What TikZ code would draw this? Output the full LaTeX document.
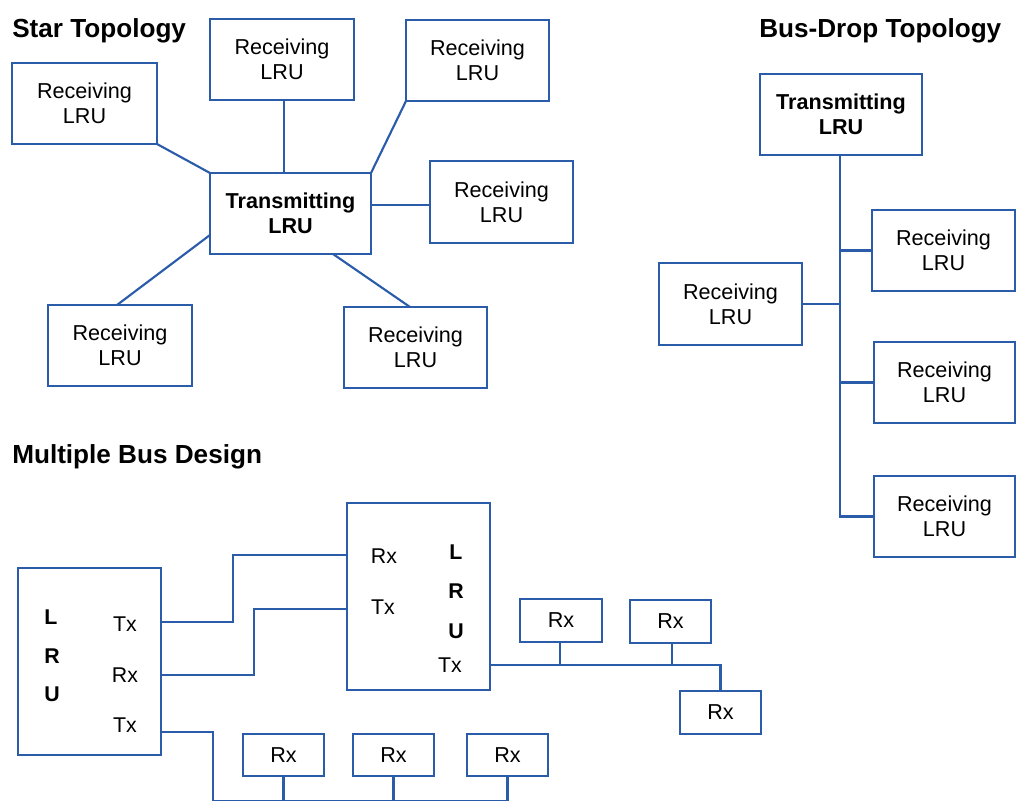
\documentclass[tikz,border=0pt]{standalone}
\usepackage{fontspec}
\setmainfont{Liberation Sans}
\usetikzlibrary{calc}
\definecolor{lineblue}{RGB}{42,92,170}
\tikzset{
  box/.style 2 args={draw=lineblue, line width=1.6pt, rectangle, inner sep=0pt, outer sep=0pt,
    minimum width=#1*0.75pt, minimum height=#2*0.75pt, align=center,
    font=\fontsize{16.2}{18.75}\selectfont},
  wire/.style={draw=lineblue, line width=1.6pt},
  title/.style={anchor=base west, inner sep=0pt, font=\fontsize{19.6}{22}\selectfont\bfseries},
  lbl/.style={inner sep=0pt, font=\fontsize{16}{18}\selectfont},
  blbl/.style={inner sep=0pt, font=\fontsize{16}{18}\selectfont\bfseries},
}
\begin{document}
\begin{tikzpicture}[x=0.75pt,y=-0.75pt]
\useasboundingbox (0,0) rectangle (1016,800);
% ---------- Star topology ----------
\node[title] (t1) at (12,37) {Star Topology};
\node[box={161}{81}] (tr) at (290.5,213.5) {\bfseries Transmitting\\\bfseries LRU};
\node[box={145}{81}] (rl1) at (84.5,103.5) {Receiving\\LRU};
\node[box={144}{81}] (rt) at (282,59.5) {Receiving\\LRU};
\node[box={143}{81}] (rtr) at (477.5,60.5) {Receiving\\LRU};
\node[box={143}{82}] (rr) at (501.5,202) {Receiving\\LRU};
\node[box={144}{81}] (rbl) at (120,345.5) {Receiving\\LRU};
\node[box={143}{81}] (rbr) at (415.5,347.5) {Receiving\\LRU};
\draw[wire] (rl1.south east) -- (tr.north west);
\draw[wire] (rt.south -| 284,0) -- (tr.north -| 284,0);
\draw[wire] (rtr.south west) -- (tr.north east);
\draw[wire] (rr.west |- 0,205) -- (tr.east |- 0,205);
\draw[wire] (tr.west |- 0,235) -- (rbl.north -| 117,0);
\draw[wire] (tr.south -| 333,0) -- (rbr.north -| 410,0);
% ---------- Bus-drop topology ----------
\node[title] (t2) at (759,37) {Bus-Drop Topology};
\node[box={162}{81}] (bt) at (841,114.5) {\bfseries Transmitting\\\bfseries LRU};
\node[box={143}{81}] (b1) at (943.5,250.5) {Receiving\\LRU};
\node[box={143}{82}] (b2) at (730.5,304) {Receiving\\LRU};
\node[box={141}{81}] (b3) at (944.5,382.5) {Receiving\\LRU};
\node[box={141}{81}] (b4) at (944.5,516.5) {Receiving\\LRU};
\draw[wire] (bt.south -| 840,0) -- (b4.west -| 840,0) -- (b4.west);
\draw[wire] (b1.west) -- (b1.west -| 840,0);
\draw[wire] (b2.east) -- (b2.east -| 840,0);
\draw[wire] (b3.west) -- (b3.west -| 840,0);
% ---------- Multiple bus design ----------
\node[title] (t3) at (12,463) {Multiple Bus Design};
\node[box={143}{187}] (m1) at (89.5,661.5) {};
\node[blbl] (m1l) at (51,617) {L};
\node[blbl] (m1r) at (52,656) {R};
\node[blbl] (m1u) at (52,694) {U};
\node[lbl] (m1t1) at (125,624) {Tx};
\node[lbl] (m1rx) at (125,675) {Rx};
\node[lbl] (m1t2) at (125,725) {Tx};
\node[box={143}{187}] (m2) at (418.5,596.5) {};
\node[lbl] (m2rx) at (384,556) {Rx};
\node[lbl] (m2tx) at (383,607) {Tx};
\node[blbl] (m2l) at (456,552) {L};
\node[blbl] (m2r) at (456,591) {R};
\node[blbl] (m2u) at (456,631) {U};
\node[lbl] (m2t2) at (450,665) {Tx};
\draw[wire] (m1.east |- 0,622) -- (233,622) -- (233,555) -- (m2.west |- 0,555);
\draw[wire] (m1.east |- 0,675) -- (254,675) -- (254,609) -- (m2.west |- 0,609);
% upper bus
\node[box={82}{43}] (ra) at (561,620.5) {Rx};
\node[box={81}{43}] (rb) at (670.5,621.5) {Rx};
\node[box={81}{43}] (rc) at (720.5,712.5) {Rx};
\draw[wire] (m2.east |- 0,665) -- (rc.north |- 0,665) -- (rc.north);
\draw[wire] (ra.south -| 560,0) -- (560,665);
\draw[wire] (rb.south -| 672,0) -- (672,665);
% lower bus
\node[box={81}{42}] (rd) at (283.5,755) {Rx};
\node[box={81}{42}] (re) at (393.5,755) {Rx};
\node[box={81}{42}] (rf) at (507.5,755) {Rx};
\draw[wire] (m1.east |- 0,732) -- (213,732) -- (213,801) -- (rf.south |- 0,801);
\draw[wire] (rd.south) -- (rd.south |- 0,801);
\draw[wire] (re.south) -- (re.south |- 0,801);
\draw[wire] (rf.south) -- (rf.south |- 0,801);
\end{tikzpicture}
\end{document}
